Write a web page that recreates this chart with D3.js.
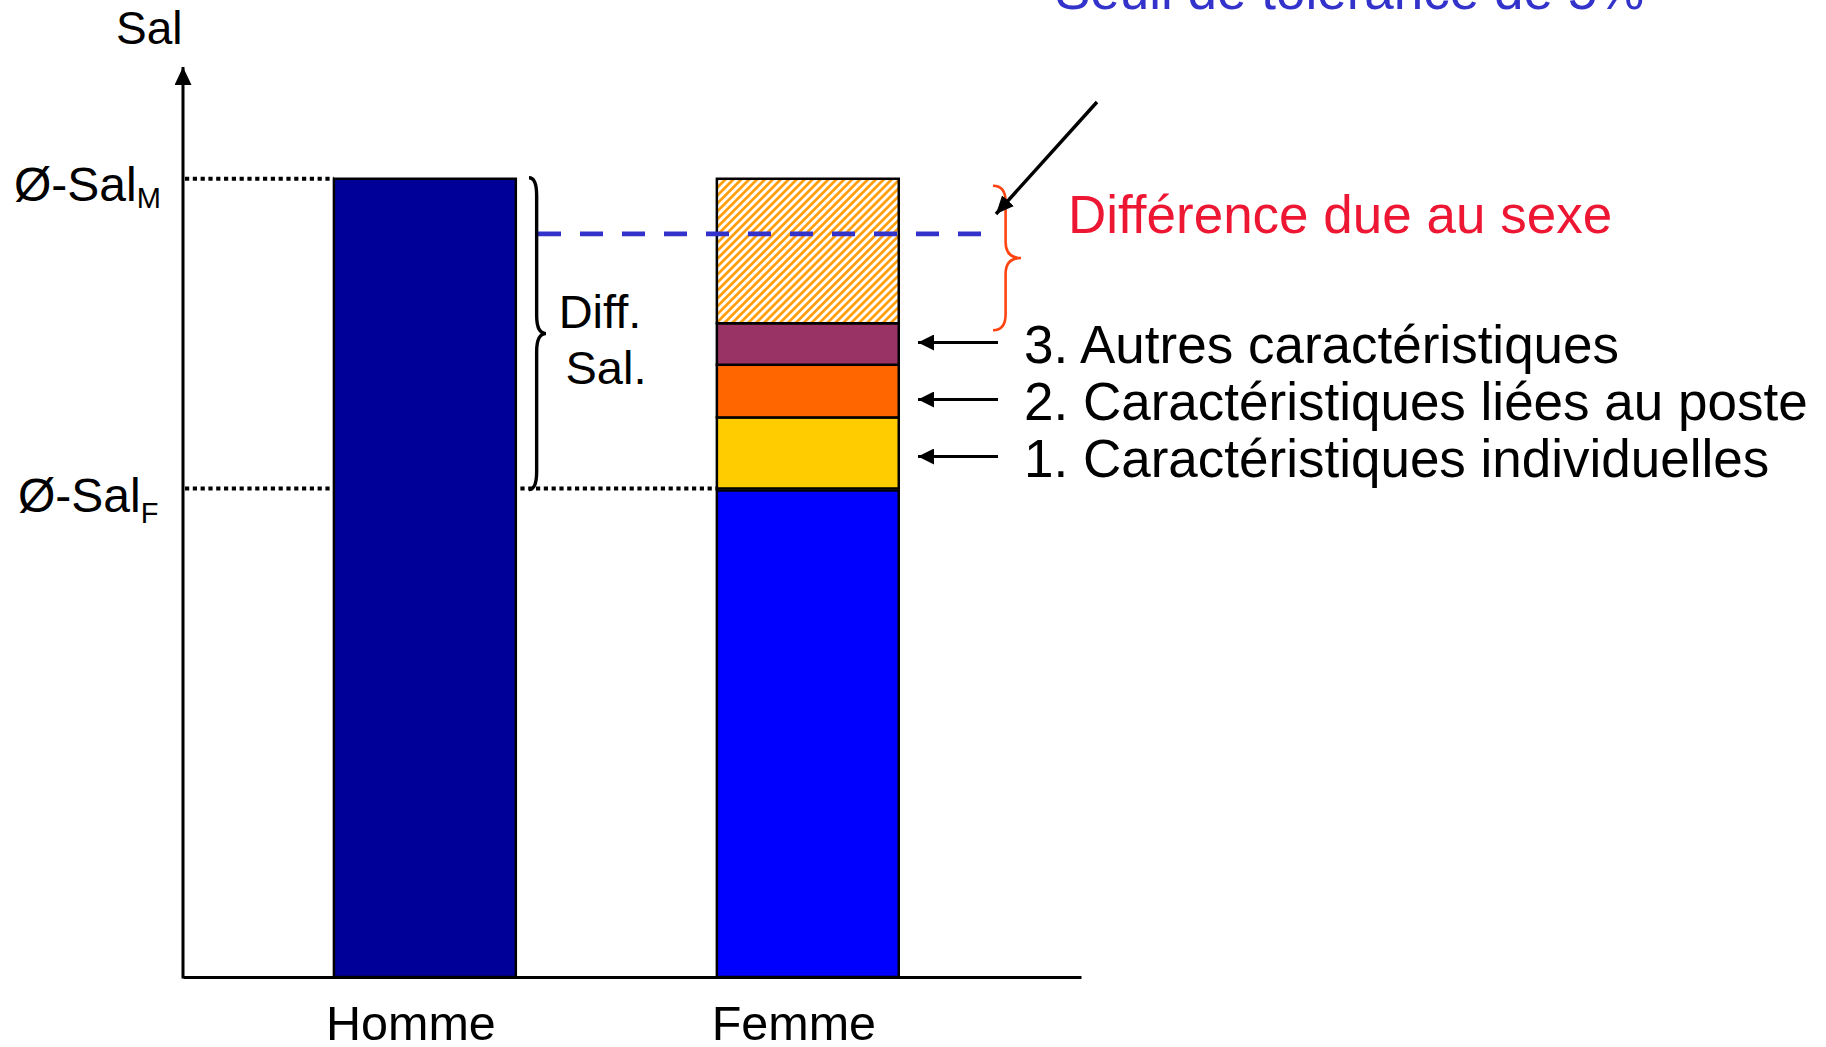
<!DOCTYPE html>
<html>
<head>
<meta charset="utf-8">
<script src="https://cdn.jsdelivr.net/npm/d3@7.9.0/dist/d3.min.js"></script>
<style>
  html, body { margin: 0; padding: 0; background: #fff; }
  svg { display: block; font-family: "Liberation Sans", Arial, sans-serif; }
</style>
</head>
<body>
<div id="chart"></div>
<script>
// categories and values (salary, Homme = 100)
const categories = ["Homme", "Femme"];
const hommeSalary = 100;
const femmeBase = 61.2;
const segmentNames = ["1. Caractéristiques individuelles", "2. Caractéristiques liées au poste", "3. Autres caractéristiques", "Différence due au sexe"];
const segmentValues = [8.9, 6.6, 5.2, 18.1];
const segmentColors = ["#ffcc00", "#ff6600", "#993366", "url(#hatch)"];
const threshold = 93.1;
const axisTop = 114;

const width = 1826, height = 1047;

const svg = d3.select("#chart")
  .append("svg")
  .attr("width", width)
  .attr("height", height);

const defs = svg.append("defs");

const hatch = defs.append("pattern")
  .attr("id", "hatch")
  .attr("patternUnits", "userSpaceOnUse")
  .attr("width", 5.6)
  .attr("height", 5.6)
  .attr("patternTransform", "rotate(45)");
hatch.append("rect").attr("width", 5.6).attr("height", 5.6).attr("fill", "#fff");
hatch.append("line")
  .attr("x1", 1.4).attr("y1", 0).attr("x2", 1.4).attr("y2", 5.6)
  .attr("stroke", "#ff9900").attr("stroke-width", 2.6);

function arrowMarker(id, len, half) {
  defs.append("marker")
    .attr("id", id)
    .attr("viewBox", `0 ${-half} ${len} ${half * 2}`)
    .attr("refX", len)
    .attr("refY", 0)
    .attr("markerUnits", "userSpaceOnUse")
    .attr("markerWidth", len)
    .attr("markerHeight", half * 2)
    .attr("orient", "auto")
    .append("path")
    .attr("d", `M0,${-half}L${len},0L0,${half}Z`)
    .attr("fill", "#000");
}
arrowMarker("head", 16, 8);
arrowMarker("axisHead", 18, 8.5);
arrowMarker("headBig", 18, 8);

const x = d3.scaleBand()
  .domain(categories)
  .range([183, 1081])
  .paddingInner(0.525)
  .paddingOuter(0.435)
  .align(0.453);

const y = d3.scaleLinear()
  .domain([0, axisTop])
  .range([977, 67]);

// stacked Femme segments
let acc = femmeBase;
const segments = segmentValues.map((v, i) => {
  const s = { name: segmentNames[i], y0: acc, y1: acc + v, color: segmentColors[i] };
  acc += v;
  return s;
});

// dotted reference lines
const dotted = [
  { v: hommeSalary, to: x("Homme") },
  { v: femmeBase, to: x("Femme") }
];
svg.append("g")
  .selectAll("line")
  .data(dotted)
  .join("line")
  .attr("x1", 185)
  .attr("x2", d => d.to)
  .attr("y1", d => y(d.v))
  .attr("y2", d => y(d.v))
  .attr("stroke", "#000")
  .attr("stroke-width", 4)
  .attr("stroke-dasharray", "4.2 3.6");

// Homme bar
svg.append("rect")
  .attr("x", x("Homme"))
  .attr("y", y(hommeSalary))
  .attr("width", x.bandwidth())
  .attr("height", y(0) - y(hommeSalary))
  .attr("fill", "#000099")
  .attr("stroke", "#000")
  .attr("stroke-width", 2.5);

// Femme base bar
svg.append("rect")
  .attr("x", x("Femme"))
  .attr("y", y(femmeBase) + 2)
  .attr("width", x.bandwidth())
  .attr("height", y(0) - y(femmeBase) - 2)
  .attr("fill", "#0000ff")
  .attr("stroke", "#000")
  .attr("stroke-width", 2.5);

svg.append("g")
  .selectAll("rect")
  .data(segments)
  .join("rect")
  .attr("x", x("Femme"))
  .attr("y", d => y(d.y1))
  .attr("width", x.bandwidth())
  .attr("height", d => y(d.y0) - y(d.y1))
  .attr("fill", d => d.color)
  .attr("stroke", "#000")
  .attr("stroke-width", 2.5);

// tolerance threshold line
svg.append("line")
  .attr("x1", 538)
  .attr("x2", 985)
  .attr("y1", y(threshold))
  .attr("y2", y(threshold))
  .attr("stroke", "#3333cc")
  .attr("stroke-width", 4.6)
  .attr("stroke-dasharray", "23 19");

// axes
svg.append("line")
  .attr("x1", 183).attr("y1", y(0) + 1.5)
  .attr("x2", 183).attr("y2", y(axisTop))
  .attr("stroke", "#000").attr("stroke-width", 3)
  .attr("marker-end", "url(#axisHead)");

const xAxis = svg.append("g")
  .attr("transform", `translate(0,${y(0)})`)
  .call(d3.axisBottom(x).tickSize(0).tickSizeOuter(0).tickPadding(29));
xAxis.select(".domain").attr("stroke", "#000").attr("stroke-width", 3);
xAxis.selectAll(".tick text")
  .attr("dx", -14)
  .attr("font-size", 48.5)
  .attr("font-family", "Liberation Sans, Arial, sans-serif")
  .attr("fill", "#000");

// curly brace
function brace(xL, y0, y1, w, r) {
  const xm = xL + w * 0.45;
  const ym = (y0 + y1) / 2;
  return `M${xL},${y0}` +
    `Q${xm},${y0} ${xm},${y0 + r}` +
    `L${xm},${ym - r}` +
    `Q${xm},${ym} ${xL + w},${ym}` +
    `Q${xm},${ym} ${xm},${ym + r}` +
    `L${xm},${y1 - r}` +
    `Q${xm},${y1} ${xL},${y1}`;
}

svg.append("path")
  .attr("d", brace(529, y(hommeSalary) - 1, y(femmeBase) + 1, 17, 18))
  .attr("fill", "none")
  .attr("stroke", "#000")
  .attr("stroke-width", 3.4);

svg.append("path")
  .attr("d", brace(993, y(acc) + 7, y(segments[2].y1) + 7, 28, 16))
  .attr("fill", "none")
  .attr("stroke", "#ff4411")
  .attr("stroke-width", 2.6);

// pointer from tolerance label
svg.append("line")
  .attr("x1", 1097).attr("y1", 102)
  .attr("x2", 996).attr("y2", 214)
  .attr("stroke", "#000").attr("stroke-width", 3.4)
  .attr("marker-end", "url(#headBig)");

// legend arrows & labels
const legendRows = segments.slice(0, 3);
const legendBaselines = [477, 420, 363];

svg.append("g")
  .selectAll("line")
  .data(legendRows)
  .join("line")
  .attr("x1", 998)
  .attr("x2", 918)
  .attr("y1", (d, i) => legendBaselines[i] - 20.5)
  .attr("y2", (d, i) => legendBaselines[i] - 20.5)
  .attr("stroke", "#000")
  .attr("stroke-width", 3)
  .attr("marker-end", "url(#head)");

svg.append("g")
  .selectAll("text")
  .data(legendRows)
  .join("text")
  .attr("x", 1024)
  .attr("y", (d, i) => legendBaselines[i])
  .attr("font-size", 53)
  .attr("fill", "#000")
  .text(d => d.name);

svg.append("text")
  .attr("x", 1068).attr("y", 233)
  .attr("font-size", 53)
  .attr("fill", "#ee1733")
  .text(segments[3].name);

svg.append("text")
  .attr("x", 1055).attr("y", 9)
  .attr("font-size", 53)
  .attr("fill", "#3333cc")
  .text("Seuil de tolérance de 5%");

// other labels
svg.append("text")
  .attr("x", 116).attr("y", 44)
  .attr("font-size", 46)
  .text("Sal");

const salM = svg.append("text").attr("x", 14).attr("y", 201).attr("font-size", 48);
salM.append("tspan").text("Ø-Sal");
salM.append("tspan").attr("font-size", 29).attr("dy", 7).text("M");

const salF = svg.append("text").attr("x", 18).attr("y", 512).attr("font-size", 48);
salF.append("tspan").text("Ø-Sal");
salF.append("tspan").attr("font-size", 29).attr("dy", 11).text("F");

svg.append("text")
  .attr("x", 600).attr("y", 328)
  .attr("text-anchor", "middle")
  .attr("font-size", 47)
  .text("Diff.");
svg.append("text")
  .attr("x", 606).attr("y", 384)
  .attr("text-anchor", "middle")
  .attr("font-size", 47)
  .text("Sal.");
</script>
</body>
</html>
